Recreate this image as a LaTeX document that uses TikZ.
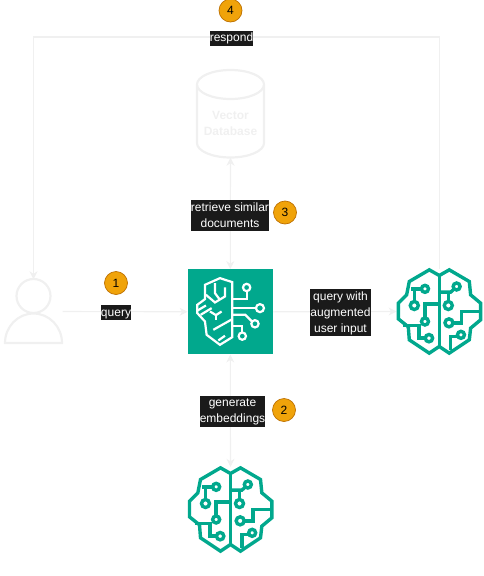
\documentclass[tikz,border=0pt]{standalone}
\usepackage{fontspec}
\setmainfont{Liberation Sans}
\usetikzlibrary{arrows.meta,shapes.geometric}
\definecolor{lightline}{HTML}{F0F0F0}
\definecolor{awsgreen}{HTML}{01A88D}
\definecolor{labelbg}{HTML}{1A1A1A}
\definecolor{badgefill}{HTML}{F0A30A}
\definecolor{badgeline}{HTML}{BD7000}
\newcommand{\lblstrut}{\rule[-4pt]{0pt}{15pt}}
\tikzset{
  x=1pt,y=-1pt,
  conn/.style={draw=lightline,line width=1.1pt,-{Stealth[length=8pt,width=8pt,inset=2.5pt]}},
  connboth/.style={draw=lightline,line width=1.1pt,{Stealth[length=8pt,width=8pt,inset=2.5pt]}-{Stealth[length=8pt,width=8pt,inset=2.5pt]}},
  lbl/.style={fill=labelbg,text=white,font=\fontsize{12}{14.5}\selectfont,inner xsep=0pt,inner ysep=0pt,align=center},
  badge/.style={circle,draw=badgeline,fill=badgefill,line width=0.7pt,minimum size=23pt,inner sep=0pt,text=black,font=\fontsize{12}{14}\selectfont},
  holder/.style={inner sep=0pt,minimum width=85pt,minimum height=85pt},
  ghost/.style={draw=lightline,line width=2.2pt},
  pics/llmbrain/.style={code={
    \begin{scope}[x=0.3333pt,y=-0.3333pt,shift={(-178,-170)},draw=awsgreen,line width=3.4pt]
      \draw (178,62)--(148,45)--(88,80)--(80,120)--(55,145)--(55,192)--(85,216)--(88,255)--(148,295)--(178,275)--(208,295)--(268,255)--(272,220)--(302,195)--(302,145)--(272,120)--(268,80)--(208,45)--cycle;
      \draw (178,62)--(178,275);
      \draw (135,102) circle (10.5);
      \draw (124,102)--(92,102);
      \draw (103,152) circle (12);
      \draw (103,140)--(103,102);
      \draw (135,200) circle (10.5);
      \draw (135,189)--(135,147)--(178,147);
      \draw (147,250) circle (11);
      \draw (136,250)--(117,250)--(117,212)--(70,212);
      \draw (230,95) circle (10.5);
      \draw (222,103)--(212,112)--(178,112);
      \draw (205,152) circle (12);
      \draw (205,140)--(205,112);
      \draw (207,204) circle (12);
      \draw (219,204)--(245,204)--(245,170)--(302,170);
      \draw (243,240) circle (10.5);
      \draw (232,245)--(212,245)--(212,285);
    \end{scope}
  }},
  pics/agentbrain/.style={code={
    \begin{scope}[x=0.3333pt,y=-0.3333pt,shift={(-181,-186)},draw=white,line width=2.2pt]
      \draw (187,97)--(150,85)--(105,105)--(105,148)--(82,165)--(82,190)--(105,215)--(110,255)--(150,285)--(187,262)--cycle;
      \draw (135,100)--(135,130)--(150,150);
      \draw (165,113)--(165,140)--(135,158)--(108,135);
      \draw (83,182)--(108,167);
      \draw (92,195)--(125,175);
      \draw (120,185)--(138,196)--(155,185);
      \draw (138,196)--(138,210);
      \draw (130,240)--(187,208);
      \draw (145,272)--(165,258);
      \draw (230,113) circle (11);
      \draw (230,124)--(230,148)--(187,148);
      \draw (270,175) circle (12);
      \draw (258,175)--(187,175);
      \draw (255,222) circle (11);
      \draw (246,215)--(226,195)--(187,195);
      \draw (217,259) circle (11);
      \draw (217,248)--(217,228)--(187,228);
    \end{scope}
  }}
}
\begin{document}
\begin{tikzpicture}
\useasboundingbox (0,0) rectangle (483,576);
% holders
\node[holder,fill=awsgreen] (agent) at (230.3,311.8) {};
\node[holder] (llm) at (439.3,311.5) {};
\node[holder] (embed) at (230.5,509.5) {};
\node[inner sep=0pt,minimum width=58pt,minimum height=64pt] (user) at (33.5,311.5) {};
\node[inner sep=0pt,minimum width=67pt,minimum height=88pt] (db) at (230.5,113.5) {};
\coordinate (cornerA) at (439.3,37);
\coordinate (cornerB) at (33.5,37);
% connectors
\draw[connboth] (db.south) -- (agent.north);
\draw[connboth] (agent.south) -- (embed.north);
\draw[conn] (user.east) -- (agent.west);
\draw[conn] (agent.east) -- (llm.west);
\draw[conn] (llm.north) -- (cornerA) -- (cornerB) -- (user.north);
% icons
\pic at (agent.center) {agentbrain};
\pic at (llm.center) {llmbrain};
\pic at (embed.center) {llmbrain};
% database
\draw[ghost] (230.5,84.5) ellipse [x radius=33.5,y radius=14.5];
\draw[ghost] (197,84.5) -- (197,143) arc[start angle=180,end angle=0,x radius=33.5,y radius=14.5] -- (264,84.5);
\node[text=lightline,font=\fontsize{12}{16}\selectfont\bfseries,align=center,inner sep=0pt] (dbtext) at (230.5,123) {Vector\\Database};
% user
\draw[ghost] (33.5,296) circle (17);
\draw[ghost] (5,343) arc[start angle=180,end angle=360,x radius=28.5,y radius=29.5] -- cycle;
% labels
\node[lbl] (lrespond) at (231.5,38) {\lblstrut respond};
\node[lbl] (lquery) at (116,312.5) {\lblstrut query};
\node[lbl] (lretrieve) at (230,215.5) {\lblstrut retrieve similar\\\lblstrut documents};
\node[lbl] (laugment) at (340.5,312.5) {\lblstrut query with\\\lblstrut augmented\\\lblstrut user input};
\node[lbl] (lgenerate) at (232.5,411) {\lblstrut generate\\\lblstrut embeddings};
% badges
\node[badge] (b1) at (116,283) {1};
\node[badge] (b2) at (284,410) {2};
\node[badge] (b3) at (285,212.5) {3};
\node[badge] (b4) at (230.5,10.5) {4};
\end{tikzpicture}
\end{document}
